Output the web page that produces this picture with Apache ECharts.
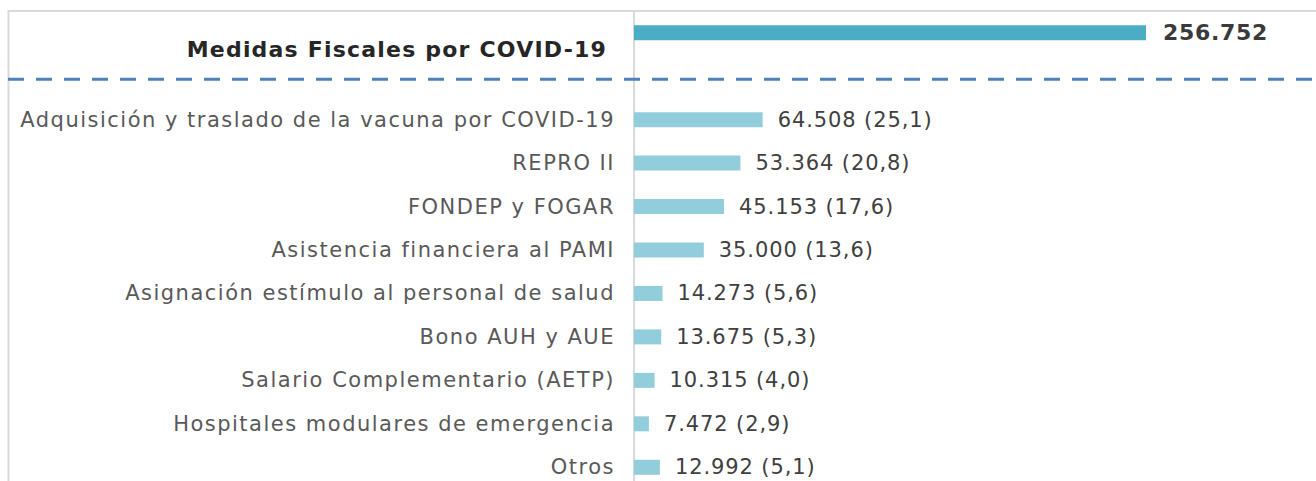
<!DOCTYPE html>
<html>
<head>
<meta charset="utf-8">
<script src="https://cdn.jsdelivr.net/npm/echarts@6/dist/echarts.min.js"></script>
<style>
  html, body { margin: 0; padding: 0; background: #fff; }
  #chart { width: 1316px; height: 481px; overflow: hidden; }
  /* wider tracking, closer to the original typeface */
  #chart text[fill="#595959"] { letter-spacing: 1.5px; }
  #chart text[fill="#404040"] { letter-spacing: 0.9px; }
  #chart text[fill="#262626"] { letter-spacing: 1.2px; }
  #chart text[fill="#3a3a3a"] { letter-spacing: 0.7px; }
</style>
</head>
<body>
<div id="chart"></div>
<script>
// categories (top = total, second slot left empty for the dashed separator)
const categories = [
  'Medidas Fiscales por COVID-19',
  '',
  'Adquisición y traslado de la vacuna por COVID-19',
  'REPRO II',
  'FONDEP y FOGAR',
  'Asistencia financiera al PAMI',
  'Asignación estímulo al personal de salud',
  'Bono AUH y AUE',
  'Salario Complementario (AETP)',
  'Hospitales modulares de emergencia',
  'Otros'
]
// millones de pesos
const values = [256752, null, 64508, 53364, 45153, 35000, 14273, 13675, 10315, 7472, 12992]
// % del total
const shares = [null, null, 25.1, 20.8, 17.6, 13.6, 5.6, 5.3, 4.0, 2.9, 5.1]

const FONT = 'DejaVu Sans'

function fmtThousands(v) {
  return String(v).replace(/\B(?=(\d{3})+(?!\d))/g, '.')
}
function fmtShare(v) {
  return v.toFixed(1).replace('.', ',')
}

const chart = echarts.init(document.getElementById('chart'), null, { renderer: 'svg' })

const barData = values.map((v, i) => {
  if (v == null) return null
  if (i === 0) {
    return {
      value: v,
      itemStyle: { color: '#4bacc6' },
      barWidth: 16,
      label: {
        distance: 17,
        fontWeight: 'bold',
        fontSize: 22,
        color: '#3a3a3a'
      }
    }
  }
  return { value: v }
})

chart.setOption({
  animation: false,
  grid: { left: 634, right: 4, top: 11, height: 478, outerBoundsMode: 'none' },
  xAxis: {
    type: 'value',
    min: 0,
    max: 340000,
    show: false
  },
  yAxis: {
    type: 'category',
    inverse: true,
    data: categories,
    axisLine: { show: true, lineStyle: { color: '#d9d9d9', width: 2 } },
    axisTick: { show: false },
    splitLine: { show: false },
    axisLabel: {
      margin: 19,
      fontFamily: FONT,
      fontSize: 21,
      color: '#595959',
      formatter: (val, idx) => idx === 0 ? '{b|' + val + '}' : val,
      rich: {
        b: {
          fontFamily: FONT,
          fontWeight: 'bold',
          fontSize: 22,
          color: '#262626',
          padding: [34, 8, 0, 0]
        }
      }
    }
  },
  series: [{
    type: 'bar',
    data: barData,
    barWidth: 15,
    itemStyle: { color: '#92cddc' },
    label: {
      show: true,
      position: 'right',
      distance: 15,
      fontFamily: FONT,
      fontSize: 21,
      color: '#404040',
      formatter: p => {
        const i = p.dataIndex
        if (i === 0) return fmtThousands(values[i])
        return fmtThousands(values[i]) + ' (' + fmtShare(shares[i]) + ')'
      }
    }
  }]
})

// frame and dashed separator placed on the empty category slot
const sepY = chart.convertToPixel({ yAxisIndex: 0 }, 1) + 3
chart.setOption({
  graphic: [
    {
      type: 'rect',
      silent: true,
      z: 0,
      shape: { x: 8.5, y: 11, width: 1400, height: 600 },
      style: { fill: null, stroke: '#d9d9d9', lineWidth: 2 }
    },
    {
      type: 'line',
      silent: true,
      z: 10,
      shape: { x1: 8, y1: sepY, x2: 1316, y2: sepY },
      style: { stroke: '#4f81bd', lineWidth: 3, lineDash: [16, 12] }
    }
  ]
})
</script>
</body>
</html>
